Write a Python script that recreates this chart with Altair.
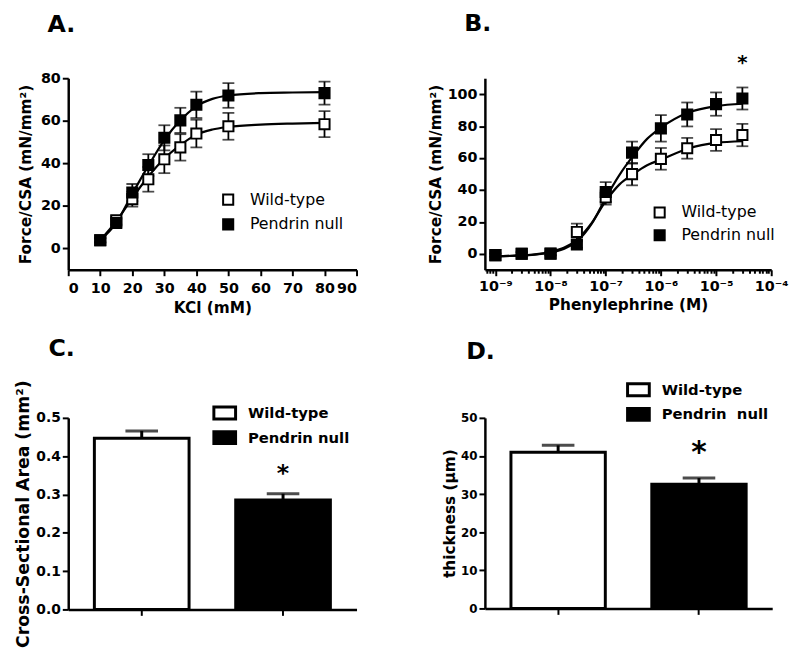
import altair as alt
import pandas as pd

FONT = "DejaVu Sans"
GROUPS = ["Wild-type", "Pendrin null"]

# ---------------- Panel A: KCl ----------------
kcl_mM = [10, 15, 20, 25, 30, 35, 40, 50, 80]
wt_kcl = [3.9, 13.2, 23.2, 32.5, 41.9, 47.5, 54.0, 57.4, 58.4]
wt_kcl_sem = [1.0, 2.0, 3.5, 5.8, 6.5, 6.2, 6.5, 6.3, 6.1]
pn_kcl = [3.9, 12.0, 26.3, 39.2, 52.0, 60.2, 67.5, 71.9, 73.0]
pn_kcl_sem = [1.0, 2.0, 4.0, 5.1, 5.9, 5.9, 6.2, 5.8, 5.4]

kcl_fit_x = [10, 15, 20, 25, 30, 35, 40, 45, 50, 60, 70, 80]
wt_kcl_fit = [3.9, 12.8, 23.7, 33.8, 42.3, 48.6, 53.5, 55.9, 57.1, 58.2, 58.7, 59.0]
pn_kcl_fit = [3.9, 12.0, 25.7, 38.8, 50.9, 60.2, 66.8, 70.3, 71.9, 73.0, 73.3, 73.5]

# ---------------- Panel B: Phenylephrine ----------------
pe_M = [1e-9, 3e-9, 1e-8, 3e-8, 1e-7, 3e-7, 1e-6, 3e-6, 1e-5, 3e-5]
wt_pe = [-0.8, 0.0, 0.2, 13.7, 35.3, 49.9, 59.5, 66.1, 71.3, 74.4]
wt_pe_sem = [1.0, 1.0, 1.0, 5.2, 4.5, 7.0, 6.8, 6.5, 6.8, 7.0]
pn_pe = [-0.8, 0.0, 0.0, 5.8, 38.7, 63.4, 78.6, 87.3, 93.8, 97.3]
pn_pe_sem = [1.0, 1.0, 1.0, 2.0, 6.2, 6.9, 8.3, 7.5, 7.3, 6.9]

pe_fit_log = [-9, -8.5, -8, -7.5, -7.25, -7, -6.75, -6.5, -6.25, -6, -5.5, -5, -4.52]
wt_pe_fit = [-1.5, -1.0, 1.2, 9.5, 19.5, 33.0, 43.5, 50.0, 55.5, 59.0, 66.0, 69.5, 70.5]
pn_pe_fit = [-1.5, -1.0, 0.8, 8.5, 19.0, 35.0, 49.5, 61.5, 72.0, 79.0, 88.5, 92.5, 94.0]

pe_star_x = [3e-5]
pe_star_y = [119.5]

# ---------------- Panel C: cross-sectional area ----------------
csa_mean = [0.447, 0.286]
csa_sem = [0.019, 0.016]
csa_star = [0.354]

# ---------------- Panel D: thickness ----------------
thick_labels = ["Wild-type", "Pendrin\u00a0 null"]
thick_mean = [41.0, 32.6]
thick_sem = [1.8, 1.6]
thick_star = [40.7]


def pts_frame(x, wt, wt_sem, pn, pn_sem):
    n = len(x)
    df = pd.DataFrame({
        "x": list(x) * 2,
        "y": list(wt) + list(pn),
        "sem": list(wt_sem) + list(pn_sem),
        "g": [GROUPS[0]] * n + [GROUPS[1]] * n,
    })
    df["lo"] = df["y"] - df["sem"]
    df["hi"] = df["y"] + df["sem"]
    return df


def fit_frame(x, wt, pn):
    n = len(x)
    return pd.DataFrame({
        "x": list(x) * 2,
        "y": list(wt) + list(pn),
        "g": [GROUPS[0]] * n + [GROUPS[1]] * n,
    })


axis_common = dict(
    domainColor="black", domainWidth=2.5, tickColor="black", tickWidth=2,
    labelFont=FONT, labelFontWeight="bold", labelColor="black",
    titleFont=FONT, titleFontWeight="bold", titleColor="black",
    grid=False,
)


def panel_title(letter, offset, dx):
    return alt.TitleParams(letter, anchor="start", frame="group", fontSize=24,
                           font=FONT, fontWeight="bold", color="black",
                           dx=dx, offset=offset, baseline="alphabetic")


def dose_panel(dfp, dff, xscale, xaxis, yscale, yaxis, legend_xy, row_pad, extra=None):
    X = lambda f="x": alt.X(f"{f}:Q", scale=xscale, axis=xaxis)
    Y = lambda f: alt.Y(f"{f}:Q", scale=yscale, axis=yaxis)
    base = alt.Chart(dfp)
    rules = base.mark_rule(color="black", strokeWidth=1.8).encode(x=X(), y=Y("lo"), y2="hi:Q")
    caps = base.transform_fold(["lo", "hi"], as_=["k", "yv"]).mark_tick(
        orient="horizontal", size=12, thickness=1.8, color="black"
    ).encode(x=X(), y=Y("yv"))
    lines = alt.Chart(dff).mark_line(color="black", strokeWidth=2.2, interpolate="monotone").encode(
        x=X(), y=Y("y"), detail="g:N")
    pts = base.mark_point(shape="square", filled=True, size=105, stroke="black",
                          strokeWidth=2, opacity=1).encode(
        x=X(), y=Y("y"),
        fill=alt.Fill("g:N", scale=alt.Scale(domain=GROUPS, range=["white", "black"]),
                      legend=alt.Legend(title=None, orient="none", legendX=legend_xy[0],
                                        legendY=legend_xy[1], symbolType="square",
                                        symbolSize=105, symbolStrokeColor="black",
                                        symbolStrokeWidth=2, labelFont=FONT,
                                        labelFontSize=16, labelFontWeight="normal",
                                        labelColor="black", labelOffset=14,
                                        rowPadding=row_pad, padding=0)),
    )
    layers = [rules, caps, lines, pts]
    if extra is not None:
        layers.append(extra)
    return alt.layer(*layers)


# ---- A ----
dfA = pts_frame(kcl_mM, wt_kcl, wt_kcl_sem, pn_kcl, pn_kcl_sem)
fitA = fit_frame(kcl_fit_x, wt_kcl_fit, pn_kcl_fit)
xsA = alt.Scale(domain=[0, 90], nice=False, zero=False)
xaA = alt.Axis(values=list(range(0, 91, 10)), title="KCl (mM)", tickSize=6, labelFontSize=14.5,
               labelPadding=6, titleFontSize=15.5, titlePadding=6, **axis_common)
ysA = alt.Scale(domain=[-10, 80], nice=False, zero=False)
yaA = alt.Axis(values=[0, 20, 40, 60, 80], title="Force/CSA (mN/mm²)", tickSize=6,
               labelFontSize=14.5, labelPadding=2, titleFontSize=15.5, titlePadding=7, **axis_common)
chartA = dose_panel(dfA, fitA, xsA, xaA, ysA, yaA, (154, 115), 5).properties(
    width=292, height=194, title=panel_title("A.", 15, -21))

# ---- B ----
dfB = pts_frame(pe_M, wt_pe, wt_pe_sem, pn_pe, pn_pe_sem)
fitB = fit_frame([10 ** e for e in pe_fit_log], wt_pe_fit, pn_pe_fit)
minor = []
for d in range(-10, -4):
    for k in range(1, 10):
        v = k * 10.0 ** d
        if 6.5e-10 <= v <= 1.0001e-4:
            minor.append(v)
minor.append(1e-4)
xsB = alt.Scale(type="log", domain=[10 ** -9.19, 1e-4], nice=False)
major_test = "abs(log(datum.value)/LN10 - round(log(datum.value)/LN10)) < 0.01"
label_expr = ("abs(log(datum.value)/LN10 + 9) < 0.01 ? '10⁻⁹' : "
              "abs(log(datum.value)/LN10 + 8) < 0.01 ? '10⁻⁸' : "
              "abs(log(datum.value)/LN10 + 7) < 0.01 ? '10⁻⁷' : "
              "abs(log(datum.value)/LN10 + 6) < 0.01 ? '10⁻⁶' : "
              "abs(log(datum.value)/LN10 + 5) < 0.01 ? '10⁻⁵' : "
              "abs(log(datum.value)/LN10 + 4) < 0.01 ? '10⁻⁴' : ''")
xaB = alt.Axis(values=minor, labelExpr=label_expr, title="Phenylephrine (M)",
               tickSize={"condition": {"test": major_test, "value": 6}, "value": 3.5},
               labelFontSize=14.5, labelPadding=4, labelOverlap=False, labelFlush=False,
               titleFontSize=15.5, titlePadding=5, **axis_common)
ysB = alt.Scale(domain=[-10, 110], nice=False, zero=False)
yaB = alt.Axis(values=[0, 20, 40, 60, 80, 100], title="Force/CSA (mN/mm²)", tickSize=6,
               labelFontSize=14.5, labelPadding=2, titleFontSize=15.5, titlePadding=4, **axis_common)
starB = alt.Chart(pd.DataFrame({"x": pe_star_x, "y": pe_star_y, "t": ["*"]})).mark_text(
    font=FONT, fontSize=20, fontWeight="bold", color="black").encode(
    x=alt.X("x:Q", scale=xsB, axis=xaB), y=alt.Y("y:Q", scale=ysB, axis=yaB), text="t:N")
chartB = dose_panel(dfB, fitB, xsB, xaB, ysB, yaB, (169, 128), 3, extra=starB).properties(
    width=290, height=194, title=panel_title("B.", -2, -21))


# ---- bar panels ----
def bar_panel(labels, means, sems, stars, ytitle, ytitle_size, ydomain, yvalues, yfmt, ylabsize,
              legend_xy, row_pad, star_size, title):
    df = pd.DataFrame({"g": labels, "v": means, "sem": sems})
    df["hi"] = df["v"] + df["sem"]
    xs = alt.Scale(domain=labels, paddingInner=0.33, paddingOuter=0.185)
    xa = alt.Axis(labels=False, title=None, ticks=True, tickSize=6, **axis_common)
    ys = alt.Scale(domain=ydomain, nice=False, zero=True)
    ya = alt.Axis(values=yvalues, format=yfmt, title=ytitle, tickSize=6, labelFontSize=ylabsize,
                  labelPadding=2, titleFontSize=ytitle_size, titlePadding=3, **axis_common)
    X = alt.X("g:N", scale=xs, axis=xa, sort=labels)
    base = alt.Chart(df)
    rule = base.mark_rule(color="black", strokeWidth=3).encode(
        x=X, y=alt.Y("v:Q", scale=ys, axis=ya), y2="hi:Q")
    cap = base.mark_tick(orient="horizontal", size=33, thickness=3, color="black").encode(
        x=X, y=alt.Y("hi:Q", scale=ys, axis=ya))
    bars = base.mark_bar(stroke="black", strokeWidth=3).encode(
        x=X, y=alt.Y("v:Q", scale=ys, axis=ya),
        fill=alt.Fill("g:N", scale=alt.Scale(domain=labels, range=["white", "black"]),
                      legend=alt.Legend(title=None, orient="none", legendX=legend_xy[0],
                                        legendY=legend_xy[1],
                                        symbolType="M-1,-0.55H1V0.55H-1Z",
                                        symbolSize=484, symbolStrokeColor="black",
                                        symbolStrokeWidth=3, labelFont=FONT,
                                        labelFontSize=15, labelFontWeight="bold",
                                        labelColor="black", labelOffset=11,
                                        rowPadding=row_pad, padding=0)))
    sdf = pd.DataFrame({"g": [labels[1]], "y": stars, "t": ["*"]})
    star = alt.Chart(sdf).mark_text(font=FONT, fontSize=star_size, fontWeight="bold",
                                    color="black").encode(
        x=X, y=alt.Y("y:Q", scale=ys, axis=ya), text="t:N")
    return alt.layer(rule, cap, bars, star).properties(title=title)


chartC = bar_panel(GROUPS, csa_mean, csa_sem, csa_star, "Cross-Sectional Area (mm²)", 17.5,
                   [0, 0.5], [0, 0.1, 0.2, 0.3, 0.4, 0.5], ".1f", 14, (146, -17.5), -1, 24,
                   panel_title("C.", 0, -20)).properties(width=292, height=194)
chartD = bar_panel(thick_labels, thick_mean, thick_sem, thick_star, "thickness (µm)", 15.5,
                   [0, 50], [0, 10, 20, 30, 40, 50], "d", 12, (143, -41), -3, 30,
                   panel_title("D.", -5, -19)).properties(width=291, height=193)

row1 = alt.hconcat(chartA, chartB, spacing=130, bounds="flush").resolve_scale(
    fill="independent").resolve_legend(fill="independent")
row2 = alt.hconcat(chartC, chartD, spacing=130, bounds="flush").resolve_scale(
    fill="independent", x="independent", y="independent").resolve_legend(fill="independent")
chart = alt.vconcat(row1, row2, spacing=344, bounds="flush").resolve_scale(
    fill="independent", x="independent", y="independent").resolve_legend(
    fill="independent").properties(
    padding={"left": 7, "top": 0, "right": 0, "bottom": 0},
    background="white",
).configure_view(stroke=None)

chart.save("out.html", embed_options={"renderer": "svg", "actions": False})
